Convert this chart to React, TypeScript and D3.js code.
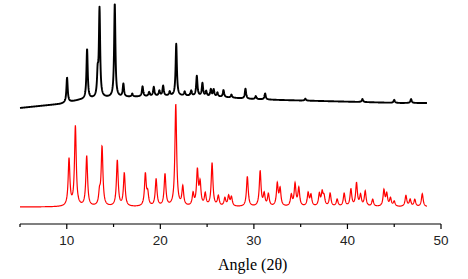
import React from 'react';
import * as d3 from 'd3';

// 2θ range of both scans
const angleStart = 5;
const angleEnd = 48.5;

// experimental pattern: baseline level (angle, counts)
const expBaseAngles = [5, 7.1, 9.3, 11.4, 13.6, 16.8, 20.0, 23.2, 26.4, 29.6, 32.8, 37.1, 41.4, 45.6, 48.5];
const expBaseLevels = [99, 101, 103, 107, 109, 110, 111, 111, 110, 108, 107, 106, 105, 104, 104];

// experimental pattern: reflections (angle, height above baseline)
const expPeakAngles = [
  10.03, 12.17, 13.3, 13.5, 15.13, 16.05, 17.0, 18.1, 18.8, 19.3, 19.9, 20.3, 21.0, 21.7, 22.6, 23.3, 23.9, 24.5,
  24.9, 25.4, 25.7, 26.1, 26.75, 27.6, 29.1, 30.2, 31.2, 35.5, 41.6, 45.0, 46.8,
];
const expPeakHeights = [
  25, 50, 22, 88, 94, 13, 3, 10, 4, 9, 5, 10, 4, 52, 4, 5, 20, 13,
  5, 7, 7, 4, 7, 3, 10, 3, 6, 2, 3, 3, 4,
];

// simulated pattern: reflections (angle, intensity)
const simPeakAngles = [
  10.24, 10.92, 12.13, 13.5, 13.77, 15.4, 16.15, 18.4, 18.65, 19.55, 20.5, 21.65, 22.4, 23.5, 23.96, 24.25, 24.8,
  25.53, 26.2, 26.9, 27.3, 27.6, 29.3, 30.67, 31.1, 31.55, 32.5, 32.8, 34.0, 34.4, 34.8, 35.8, 36.1, 37.0, 37.3,
  37.5, 38.15, 38.9, 39.65, 40.37, 40.97, 41.4, 41.9, 42.7, 43.9, 44.2, 44.6, 45.0, 46.25, 46.7, 47.2, 48.0,
];
const simPeakHeights = [
  47, 80, 50, 12, 59, 46, 33, 32, 12, 27, 32, 102, 19, 12, 35, 22, 12,
  43, 10, 8, 10, 9, 30, 35, 12, 12, 22, 17, 11, 22, 18, 13, 11, 12, 13,
  9, 13, 7, 13, 17, 23, 11, 15, 7, 16, 12, 8, 5, 11, 7, 7, 13,
];

const xTicks = [10, 20, 30, 40, 50];
const xMinorTicks = [5, 15, 25, 35, 45];

const lorentz = (x: number, c: number, h: number, w: number) => h / (1 + Math.pow((2 * (x - c)) / w, 2));

const App = () => {
  const width = 468;
  const height = 279;
  const x = d3.scaleLinear().domain([5, 50]).range([20, 441]);
  const y = d3.scaleLinear().domain([0, 207]).range([207, 0]);

  const grid = d3.range(angleStart, angleEnd + 0.0001, 0.02);
  const base = d3.scaleLinear().domain(expBaseAngles).range(expBaseLevels);

  const expData = grid.map((a) => {
    let v = base(a);
    expPeakAngles.forEach((c, i) => (v += lorentz(a, c, expPeakHeights[i], 0.16)));
    return [a, v] as [number, number];
  });
  const simData = grid.map((a) => {
    let v = 0;
    simPeakAngles.forEach((c, i) => (v += lorentz(a, c, simPeakHeights[i], 0.22)));
    return [a, v] as [number, number];
  });

  const line = d3
    .line<[number, number]>()
    .x((d) => x(d[0]))
    .y((d) => y(d[1]));

  const axisY = 224;

  return (
    <svg width={width} height={height} style={{ position: 'absolute', left: 0, top: 0, background: '#fff' }}>
      <path d={line(simData) || ''} fill="none" stroke="#ff0000" strokeWidth={1.2} />
      <path d={line(expData) || ''} fill="none" stroke="#000" strokeWidth={1.9} strokeLinejoin="round" />

      <line x1={x(5)} x2={x(50)} y1={axisY} y2={axisY} stroke="#000" strokeWidth={1.2} />
      {xTicks.map((t) => (
        <g key={t}>
          <line x1={x(t)} x2={x(t)} y1={axisY} y2={axisY + 5} stroke="#000" strokeWidth={1.2} />
          <text
            x={x(t)}
            y={245}
            textAnchor="middle"
            fontFamily="'Liberation Sans', Arial, sans-serif"
            fontSize={13.5}
            fill="#222"
          >
            {t}
          </text>
        </g>
      ))}
      {xMinorTicks.map((t) => (
        <line key={t} x1={x(t)} x2={x(t)} y1={axisY} y2={axisY + 3} stroke="#000" strokeWidth={1.2} />
      ))}
      <text x={218} y={270} fontFamily="'Liberation Serif', 'Times New Roman', serif" fontSize={16} fill="#000">
        Angle (2θ)
      </text>
    </svg>
  );
};

export default App;
